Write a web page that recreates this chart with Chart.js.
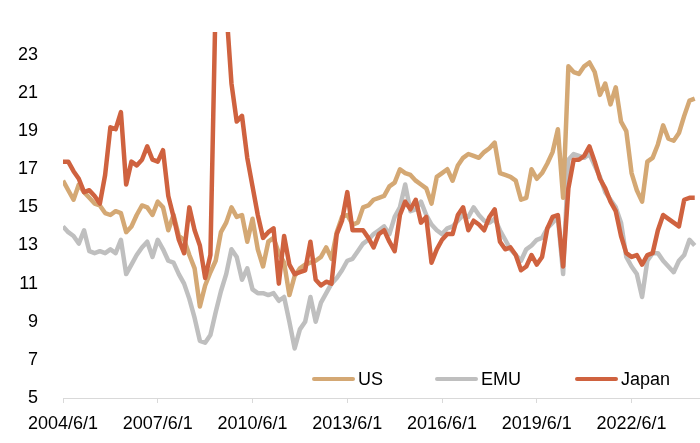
<!DOCTYPE html>
<html>
<head>
<meta charset="utf-8">
<script src="https://cdn.jsdelivr.net/npm/chart.js@4/dist/chart.umd.min.js"></script>
<style>
  html, body { margin: 0; padding: 0; background: #fff; }
  #wrap { position: relative; width: 700px; height: 443px; }
  #legend { position: absolute; left: 0; top: 368px; width: 700px; height: 22px;
            font-family: "Liberation Sans", Arial, sans-serif; font-size: 18px; color: #000; }
  .item { position: absolute; top: 0; height: 22px; display: flex; align-items: center; }
  .swatch { width: 43px; height: 4px; border-radius: 2px; margin-right: 3px; }
</style>
</head>
<body>
<div id="wrap">
  <canvas id="chart" width="700" height="443"></canvas>
  <div id="legend"></div>
</div>
<script>
// one value every 2 months, from 2004/6 to 2024/6
const stepMonths = 2;
const xTickLabels = ['2004/6/1', '2007/6/1', '2010/6/1', '2013/6/1', '2016/6/1', '2019/6/1', '2022/6/1'];
const yTicks = [5, 7, 9, 11, 13, 15, 17, 19, 21, 23];

const usValues = [
  16.4, 15.9, 15.4, 16.2, 15.8, 15.5, 15.2, 15.1, 14.7, 14.6,
  14.8, 14.7, 13.7, 14.0, 14.6, 15.1, 15.0, 14.6, 15.3, 15.0,
  13.8, 14.6, 13.5, 13.3, 12.5, 11.8, 9.8, 10.9, 11.6, 12.2,
  13.7, 14.2, 15.0, 14.5, 14.6, 13.2, 14.4, 12.8, 11.9, 13.2,
  13.4, 12.6, 12.1, 10.4, 11.4, 11.8, 12.0, 12.1, 12.2, 12.4,
  12.9, 12.3, 13.7, 14.5, 14.6, 14.1, 14.2, 15.0, 15.1, 15.4,
  15.5, 15.6, 16.1, 16.3, 17.0, 16.8, 16.7, 16.4, 16.2, 16.0,
  15.2, 16.6, 16.8, 17.0, 16.4, 17.2, 17.6, 17.8, 17.7, 17.6,
  17.9, 18.1, 18.4, 16.8, 16.7, 16.6, 16.4, 15.4, 15.5, 17.0,
  16.5, 16.8, 17.3, 17.9, 19.1, 15.5, 22.4, 22.1, 22.0, 22.4,
  22.6, 22.1, 20.9, 21.5, 20.4, 21.3, 19.5, 19.0, 16.8, 15.9,
  15.3, 17.4, 17.6, 18.3, 19.3, 18.6, 18.5, 18.9, 19.8, 20.6,
  20.7
];

const emuValues = [
  14.0, 13.7, 13.5, 13.1, 13.8, 12.7, 12.6, 12.7, 12.6, 12.8,
  12.6, 13.3, 11.5, 12.0, 12.5, 12.9, 13.2, 12.4, 13.3, 12.8,
  12.2, 12.1, 11.5, 11.0, 10.2, 9.2, 8.0, 7.9, 8.3, 9.5,
  10.6, 11.5, 12.8, 12.4, 11.2, 11.8, 10.7, 10.5, 10.5, 10.4,
  10.5, 10.1, 10.3, 9.0, 7.6, 8.6, 9.0, 10.3, 9.0, 10.0,
  10.5, 11.0, 11.3, 11.7, 12.2, 12.3, 12.7, 13.1, 13.3, 13.6,
  13.8, 14.0, 13.6, 14.5, 15.0, 16.2, 14.8, 14.9, 15.3, 14.6,
  14.1, 13.8, 13.6, 13.9, 14.0, 14.3, 14.6, 14.5, 15.0, 14.6,
  14.3, 14.2, 14.4, 13.8, 13.3, 12.8, 12.5, 12.2, 12.8, 13.0,
  13.3, 13.4, 13.9, 14.2, 14.5, 11.5, 17.5, 17.8, 17.7, 17.6,
  17.8, 17.2, 16.6, 15.8, 15.4, 15.0, 14.2, 12.4, 11.9, 11.5,
  10.3, 12.2, 12.6, 12.6, 12.2, 11.9, 11.6, 12.2, 12.5, 13.3,
  13.0
];

const japanValues = [
  17.4, 17.4, 16.9, 16.5, 15.8, 15.9, 15.6, 15.2, 16.7, 19.2,
  19.1, 20.0, 16.2, 17.4, 17.2, 17.5, 18.2, 17.5, 17.4, 18.0,
  15.6, 14.5, 13.3, 12.6, 15.0, 13.8, 13.0, 11.3, 12.5, 26.0,
  30.0, 25.5, 21.5, 19.5, 19.8, 17.6, 16.1, 14.6, 13.4, 13.7,
  13.9, 11.0, 13.5, 12.0, 11.5, 11.6, 11.7, 13.2, 11.2, 10.9,
  11.1, 11.0, 13.6, 14.3, 15.8, 13.8, 13.8, 13.8, 13.4, 12.9,
  13.6, 13.8, 13.2, 12.7, 14.6, 15.3, 14.9, 15.4, 14.2, 14.5,
  12.1, 12.8, 13.3, 13.6, 13.6, 14.6, 15.0, 13.8, 14.3, 14.1,
  13.8, 14.5, 14.9, 13.2, 12.8, 12.9, 12.5, 11.7, 11.9, 12.5,
  12.0, 12.4, 13.9, 14.5, 14.6, 11.9, 16.0, 17.5, 17.5, 17.7,
  18.2, 17.4, 16.5, 16.0, 15.3, 14.8, 13.5, 12.6, 12.4, 12.5,
  12.0, 12.5, 12.6, 13.8, 14.6, 14.4, 14.2, 14.0, 15.4, 15.5,
  15.5
];

const seriesNames = ['US', 'EMU', 'Japan'];
const seriesColors = ['#D4A874', '#BFBFBF', '#CF623F'];

const toPoints = (values) => values.map((v, i) => ({ x: i * stepMonths, y: v }));

const fontFamily = '"Liberation Sans", Arial, sans-serif';

const chart = new Chart(document.getElementById('chart'), {
  type: 'line',
  data: {
    datasets: [usValues, emuValues, japanValues].map((vals, k) => ({
      label: seriesNames[k],
      data: toPoints(vals),
      borderColor: seriesColors[k],
      backgroundColor: seriesColors[k],
      borderWidth: 4.5,
      borderJoinStyle: 'round',
      pointRadius: 0,
      tension: 0,
      order: [1, 2, 0][k]
    }))
  },
  options: {
    responsive: false,
    animation: false,
    layout: { padding: { top: 32, right: 0, bottom: 0, left: 0 } },
    plugins: { legend: { display: false }, tooltip: { enabled: false } },
    scales: {
      x: {
        type: 'linear',
        min: 0,
        max: 242,
        afterBuildTicks: (scale) => { scale.ticks = xTickLabels.map((_, k) => ({ value: k * 36 })); },
        afterFit: (scale) => { scale.height = 45; },
        grid: { display: true, drawOnChartArea: false, drawTicks: true, tickLength: 5, color: '#D9D9D9' },
        border: { display: true, color: '#D9D9D9', width: 1 },
        ticks: {
          callback: (v) => xTickLabels[Math.round(v / 36)],
          font: { family: fontFamily, size: 18 },
          color: '#000',
          padding: 10,
          maxRotation: 0,
          autoSkip: false
        }
      },
      y: {
        min: 5,
        max: 24.2,
        afterBuildTicks: (scale) => { scale.ticks = yTicks.map(v => ({ value: v })); },
        afterFit: (scale) => { scale.width = 63; },
        grid: { display: false },
        border: { display: false },
        ticks: {
          font: { family: fontFamily, size: 18 },
          color: '#000',
          padding: 17
        }
      }
    }
  }
});

// legend sits inside the plot, above the x axis
const legendLefts = [312, 435, 575];
const legendEl = document.getElementById('legend');
chart.data.datasets.forEach((ds, k) => {
  const item = document.createElement('div');
  item.className = 'item';
  item.style.left = legendLefts[k] + 'px';
  item.innerHTML = `<span class="swatch" style="background:${ds.borderColor}"></span><span>${ds.label}</span>`;
  legendEl.appendChild(item);
});
</script>
</body>
</html>
